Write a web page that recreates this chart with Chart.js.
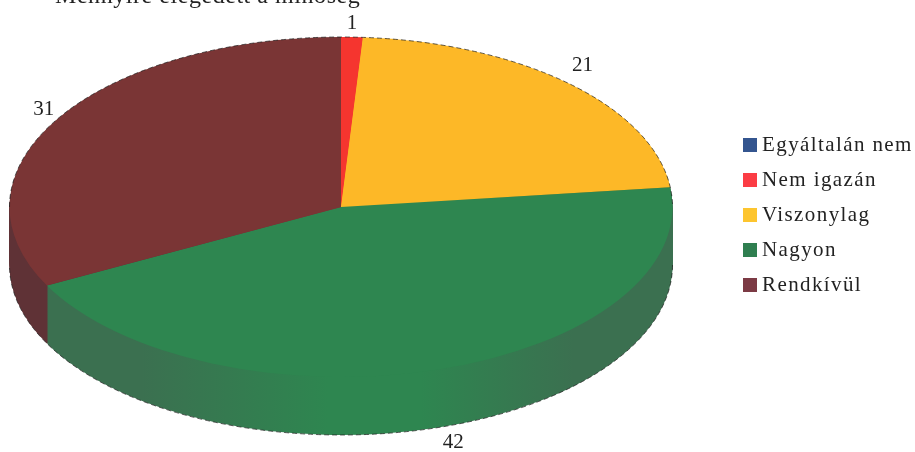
<!DOCTYPE html>
<html lang="hu">
<head>
  <meta charset="UTF-8">
  <title>Kördiagram</title>
  <script src="https://cdn.jsdelivr.net/npm/chart.js@4.4.1/dist/chart.umd.min.js"></script>
  <style>
    html, body { margin: 0; padding: 0; background: #fff; }
    #wrap { position: relative; width: 915px; height: 452px; overflow: hidden; }
    #pie { display: block; }
    /* legend is plain HTML so the swatch/text gap can be set freely */
    #legend {
      position: absolute; left: 743px; top: 127px; margin: 0; padding: 0; list-style: none;
      font: 21px "Liberation Serif", serif; letter-spacing: 1.4px; color: #222;
    }
    #legend li { display: flex; align-items: center; height: 35px; white-space: nowrap; }
    #legend i { display: block; width: 14px; height: 14px; margin-right: 5px; }
  </style>
</head>
<body>
  <div id="wrap">
    <canvas id="pie" width="915" height="452"></canvas>
    <ul id="legend"></ul>
  </div>
  <script>
    const categories = ['Egyáltalán nem', 'Nem igazán', 'Viszonylag', 'Nagyon', 'Rendkívül'];
    const values = [0, 1, 21, 42, 31];
    const topColors = ['#34558f', '#f5352f', '#fdb827', '#2e8650', '#7a3535'];
    const sideColors = ['#2a4473', '#b52a26', '#c08c1e', '#3b7050', '#5f3236'];
    const legendColors = ['#34558f', '#fb3c44', '#fdc52f', '#2f7f50', '#7c3a44'];
    const titleText = 'Mennyire elégedett a minőség';

    const serif = '"Liberation Serif", serif';
    const stretchX = 1.95;   // circle -> wide ellipse
    const depth = 58;        // height of the disc wall

    // label distance from the rim of each slice, in px
    const labelShift = [null, [0, -14], [13, -18], [15, 15], [-14, -9]];

    // applies the tilt around the pie centre
    function tilt(ctx, arc) {
      ctx.translate(arc.x, arc.y);
      ctx.scale(stretchX, 1);
      ctx.translate(-arc.x, -arc.y);
    }

    // wall shading: dark at the sides of the disc, fading into the slice colour at the front
    function wallFill(ctx, arc, i) {
      const r = arc.outerRadius;
      const g = ctx.createLinearGradient(arc.x - r, 0, arc.x + r, 0);
      g.addColorStop(0, sideColors[i]);
      g.addColorStop(0.2, sideColors[i]);
      g.addColorStop(0.48, topColors[i]);
      g.addColorStop(0.62, topColors[i]);
      g.addColorStop(0.85, sideColors[i]);
      g.addColorStop(1, sideColors[i]);
      return g;
    }

    // disc wall: the same arcs stacked downward in a darker colour
    const discWall = {
      id: 'discWall',
      beforeDatasetsDraw(chart) {
        const ctx = chart.ctx;
        const arcs = chart.getDatasetMeta(0).data;
        for (let off = depth; off > 0; off--) {
          arcs.forEach((arc, i) => {
            if (!values[i]) return;
            const saved = arc.options.backgroundColor;
            arc.options.backgroundColor = wallFill(ctx, arc, i);
            ctx.save();
            ctx.translate(0, off);
            tilt(ctx, arc);
            arc.draw(ctx);
            ctx.restore();
            arc.options.backgroundColor = saved;
          });
        }
        ctx.save();
        tilt(ctx, arcs[0]);
      },
      afterDatasetsDraw(chart) {
        chart.ctx.restore();
      }
    };

    // broken dark rim along the top and bottom of the disc
    const discRim = {
      id: 'discRim',
      afterDatasetsDraw(chart) {
        const ctx = chart.ctx;
        const arc = chart.getDatasetMeta(0).data[1];
        const rx = arc.outerRadius * stretchX, ry = arc.outerRadius;
        ctx.save();
        ctx.strokeStyle = 'rgba(30,30,30,0.7)';
        ctx.lineWidth = 1;
        ctx.setLineDash([5, 3]);
        ctx.beginPath();
        ctx.ellipse(arc.x, arc.y, rx, ry, 0, Math.PI, 2 * Math.PI);
        ctx.stroke();
        ctx.beginPath();
        ctx.ellipse(arc.x, arc.y + depth, rx, ry, 0, 0, Math.PI);
        ctx.stroke();
        ctx.restore();
      }
    };

    // value labels and the heading line
    const valueLabels = {
      id: 'valueLabels',
      afterDraw(chart) {
        const ctx = chart.ctx;
        ctx.save();
        ctx.fillStyle = '#222';
        ctx.textAlign = 'center';
        ctx.textBaseline = 'middle';
        ctx.font = '21px ' + serif;
        chart.getDatasetMeta(0).data.forEach((arc, i) => {
          if (!values[i]) return;
          const mid = (arc.startAngle + arc.endAngle) / 2;
          const s = Math.sin(mid);
          const x = arc.x + Math.cos(mid) * arc.outerRadius * stretchX + labelShift[i][0];
          const y = arc.y + s * arc.outerRadius + (s > 0 ? depth : 0) + labelShift[i][1];
          ctx.fillText(String(values[i]), x, y);
        });
        ctx.textAlign = 'left';
        ctx.textBaseline = 'alphabetic';
        ctx.font = '24px ' + serif;
        ctx.letterSpacing = '0.55px';
        ctx.fillText(titleText, 55, 3);
        ctx.restore();
      }
    };

    document.getElementById('legend').innerHTML = categories
      .map((name, i) => `<li><i style="background:${legendColors[i]}"></i>${name}</li>`)
      .join('');

    new Chart(document.getElementById('pie'), {
      type: 'pie',
      data: {
        labels: categories,
        datasets: [{
          data: values,
          backgroundColor: topColors,
          borderWidth: 0
        }]
      },
      options: {
        responsive: false,
        animation: false,
        layout: { padding: { left: 0, right: 233, top: 37, bottom: 75 } },
        plugins: {
          tooltip: { enabled: false },
          legend: { display: false }
        }
      },
      plugins: [discWall, discRim, valueLabels]
    });
  </script>
</body>
</html>
